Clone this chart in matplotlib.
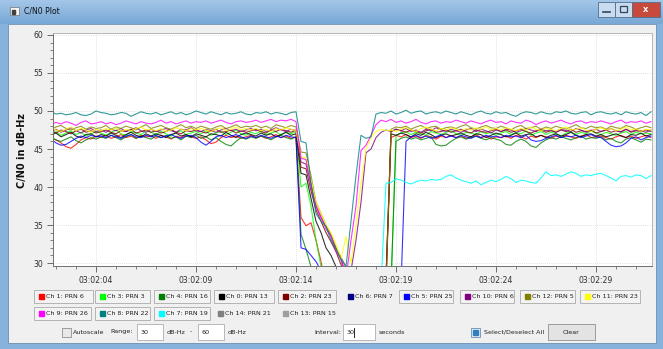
"""C/N0 plot window: per-channel carrier-to-noise over a 30 s interval."""
import numpy as np
import matplotlib

matplotlib.use("Agg")
import matplotlib.pyplot as plt
from matplotlib.colors import LinearSegmentedColormap
from matplotlib.patches import Rectangle
from matplotlib.ticker import FuncFormatter, MultipleLocator

W, H, DPI = 663, 349, 100

# samples every 0.25 s, time in seconds after 03:02:00
T0, STEP = 1.75, 0.25

ch1_prn6 = [
    46.5, 46.2, 45.8, 45.3, 45.1, 45.6, 46.2, 46.5, 46.3, 46.7,
    46.5, 46.8, 46.4, 46.6, 46.9, 46.5, 46.7, 46.4, 46.8, 46.6,
    46.7, 46.4, 46.8, 46.6, 46.3, 46.7, 46.5, 46.9, 46.6, 46.4,
    46.6, 46.2, 45.7, 45.9, 46.5, 46.8, 46.5, 46.7, 46.4, 46.6,
    46.8, 46.5, 46.7, 46.4, 46.6, 46.9, 46.5, 46.7, 46.4, 46.6,
    36.0, 34.9, 35.3, 33.0, 30.2, 27.0, 27.0, 27.0, 27.0, 27.0,
    27.0, 27.0, 27.0, 27.0, 27.0, 27.0, 27.0, 27.0, 46.5, 46.8,
    46.6, 46.9, 46.5, 46.7, 46.4, 46.8, 46.6, 46.3, 46.7, 46.5,
    46.8, 46.5, 46.7, 46.4, 46.6, 46.9, 46.5, 46.7, 46.3, 46.6,
    46.5, 46.7, 46.4, 46.8, 46.6, 46.3, 46.7, 46.5, 46.8, 46.6,
    46.4, 46.7, 46.5, 46.8, 46.6, 46.4, 46.7, 46.9, 46.5, 46.6,
    46.7, 46.5, 46.3, 46.6, 46.8, 46.5, 46.7, 46.4, 46.6, 46.8,
    46.5,
]
ch3_prn3 = [
    47.0, 47.3, 46.8, 47.1, 47.4, 46.9, 47.2, 46.7, 47.0, 47.3,
    47.1, 46.8, 47.2, 47.5, 47.0, 46.8, 47.3, 47.1, 46.9, 47.4,
    47.2, 46.9, 47.3, 47.0, 46.7, 47.2, 47.4, 46.9, 47.1, 47.3,
    47.0, 47.4, 46.8, 47.1, 47.3, 46.9, 47.2, 47.5, 47.0, 46.8,
    47.2, 47.0, 47.4, 46.9, 47.1, 47.3, 46.8, 47.2, 47.0, 47.3,
    40.0, 40.5, 37.5, 33.0, 29.5, 27.0, 27.0, 27.0, 27.0, 27.0,
    27.0, 27.0, 27.0, 27.0, 27.0, 27.0, 27.0, 27.0, 27.0, 46.8,
    47.1, 47.3, 46.9, 47.2, 47.0, 46.8, 47.3, 47.1, 46.9, 47.2,
    47.4, 47.0, 46.8, 47.2, 47.1, 46.9, 47.3, 47.0, 47.2, 46.8,
    47.1, 47.3, 46.9, 47.2, 47.0, 47.4, 46.8, 47.1, 47.3, 46.9,
    47.2, 47.0, 46.7, 47.1, 47.3, 46.9, 47.2, 47.0, 47.4, 47.1,
    46.9, 47.2, 47.0, 46.8, 47.1, 47.3, 46.9, 47.2, 47.0, 47.1,
    47.0,
]
ch4_prn16 = [
    46.5, 46.2, 46.0, 46.3, 46.6, 46.1, 45.8, 46.2, 46.5, 46.3,
    46.6, 46.4, 46.8, 46.5, 46.2, 46.6, 46.9, 46.4, 46.7, 46.5,
    46.3, 46.7, 46.5, 46.8, 46.4, 46.6, 46.2, 46.7, 46.5, 46.8,
    46.4, 46.6, 46.2, 46.5, 46.0, 45.6, 45.4, 46.0, 46.5, 46.3,
    46.6, 46.4, 46.7, 46.5, 46.2, 46.6, 46.8, 46.5, 46.3, 46.6,
    33.8, 31.8, 29.5, 27.0, 27.0, 27.0, 27.0, 27.0, 27.0, 27.0,
    27.0, 27.0, 27.0, 27.0, 27.0, 27.0, 27.0, 27.0, 27.0, 46.0,
    46.4, 46.6, 46.3, 46.5, 46.2, 46.4, 46.6, 45.6, 45.4, 45.5,
    46.0, 46.4, 46.6, 46.3, 46.5, 46.7, 46.4, 46.2, 46.5, 46.3,
    46.1, 45.6, 45.5, 46.0, 46.3, 46.0, 45.4, 45.2, 45.8, 46.2,
    46.5, 46.3, 46.6, 46.4, 46.2, 46.5, 46.7, 46.3, 46.5, 46.4,
    46.6, 46.2, 46.4, 46.0, 45.8, 46.3, 46.5, 46.2, 45.9, 46.3,
    46.2,
]
ch0_prn13 = [
    46.8, 47.1, 46.6, 46.9, 47.2, 46.7, 46.5, 46.9, 47.0, 46.6,
    46.9, 46.7, 47.1, 46.8, 46.5, 46.9, 47.2, 46.8, 46.6, 47.0,
    46.7, 47.0, 46.8, 46.5, 46.9, 47.1, 46.7, 46.9, 46.6, 47.0,
    46.8, 46.6, 47.0, 46.9, 46.7, 47.2, 46.8, 46.5, 46.9, 47.1,
    46.9, 46.7, 47.1, 46.8, 47.0, 46.6, 46.9, 47.2, 46.8, 47.0,
    41.8, 41.6, 38.5, 35.5, 34.0, 32.0, 31.0, 29.5, 28.0, 28.0,
    28.0, 28.0, 28.0, 28.0, 28.0, 28.0, 28.0, 28.0, 47.0, 46.8,
    47.1, 46.9, 46.6, 47.0, 46.8, 47.2, 46.9, 46.5, 46.8, 47.0,
    46.7, 46.9, 47.1, 46.8, 46.6, 47.0, 46.9, 46.5, 46.8, 47.1,
    46.9, 46.6, 46.8, 47.1, 46.7, 46.9, 47.0, 46.6, 46.8, 46.5,
    46.8, 47.0, 46.7, 46.9, 47.2, 46.8, 46.6, 46.9, 47.0, 46.7,
    46.9, 46.6, 46.8, 47.0, 46.7, 46.5, 46.9, 46.8, 47.1, 46.7,
    46.9,
]
ch2_prn23 = [
    47.4, 47.1, 47.5, 47.3, 47.0, 47.4, 47.6, 47.2, 47.4, 47.1,
    47.3, 47.5, 47.2, 47.0, 47.4, 47.3, 47.6, 47.1, 47.3, 47.5,
    47.2, 47.4, 47.1, 47.3, 47.6, 47.2, 47.0, 47.4, 47.3, 47.5,
    47.3, 47.1, 47.4, 47.6, 47.2, 47.3, 47.5, 47.1, 47.4, 47.2,
    47.4, 47.6, 47.3, 47.1, 47.5, 47.3, 47.6, 47.4, 47.2, 47.5,
    42.6, 42.4, 39.5, 37.0, 35.5, 34.0, 32.8, 31.5, 29.8, 28.0,
    28.0, 28.0, 28.0, 28.0, 28.0, 28.0, 28.0, 28.0, 47.3, 47.6,
    47.4, 47.2, 47.5, 47.3, 47.1, 47.4, 47.6, 47.2, 47.3, 47.5,
    47.2, 47.4, 47.6, 47.3, 47.1, 47.5, 47.3, 47.2, 47.4, 47.6,
    47.3, 47.5, 47.2, 47.4, 47.6, 47.3, 47.1, 47.4, 47.5, 47.2,
    47.4, 47.2, 47.5, 47.3, 47.6, 47.2, 47.4, 47.3, 47.5, 47.1,
    47.3, 47.5, 47.2, 47.4, 47.3, 47.6, 47.2, 47.4, 47.3, 47.5,
    47.3,
]
ch5_prn25 = [
    46.3, 45.8, 45.5, 45.6, 46.0, 46.4, 46.7, 46.5, 46.8, 46.6,
    46.7, 46.5, 46.8, 46.6, 46.4, 46.7, 46.9, 46.6, 46.5, 46.8,
    46.6, 46.8, 46.5, 46.7, 46.9, 46.6, 46.4, 46.7, 46.8, 46.5,
    45.9, 45.5, 46.0, 46.6, 46.8, 46.5, 46.7, 46.9, 46.6, 46.4,
    46.7, 46.5, 46.8, 46.6, 46.4, 46.7, 46.5, 46.8, 46.6, 46.5,
    32.0, 31.8, 31.0, 30.2, 29.0, 27.0, 27.0, 27.0, 27.0, 27.0,
    27.0, 27.0, 27.0, 27.0, 27.0, 27.0, 27.0, 27.0, 27.0, 27.0,
    27.0, 46.0, 46.6, 46.8, 46.5, 46.7, 46.4, 46.6, 46.9, 46.5,
    46.7, 46.5, 46.8, 46.6, 46.4, 46.7, 46.5, 46.8, 46.6, 46.7,
    46.5, 46.8, 46.6, 46.7, 46.5, 46.8, 46.2, 46.0, 46.1, 46.4,
    46.6, 46.8, 46.5, 46.7, 46.6, 46.8, 46.5, 46.7, 46.9, 46.6,
    46.5, 46.0, 45.5, 45.3, 45.4, 45.8, 46.4, 46.6, 46.2, 46.5,
    46.7,
]
ch10_prn6 = [
    47.3, 47.6, 47.2, 47.5, 47.8, 47.4, 47.1, 47.5, 47.7, 47.3,
    47.5, 47.2, 47.6, 47.4, 47.7, 47.3, 47.5, 47.8, 47.4, 47.2,
    47.6, 47.3, 47.5, 47.7, 47.4, 47.2, 47.6, 47.5, 47.8, 47.4,
    47.3, 47.6, 47.4, 47.2, 47.5, 47.7, 47.4, 47.6, 47.3, 47.5,
    47.7, 47.4, 47.6, 47.3, 47.5, 47.8, 47.5, 47.3, 47.6, 47.4,
    43.3, 43.0, 40.5, 37.5, 36.0, 34.8, 33.5, 32.0, 30.5, 28.5,
    29.0, 33.0, 38.0, 44.5, 45.0, 46.5, 47.2, 47.5, 47.3, 47.6,
    47.4, 47.7, 47.3, 47.5, 47.2, 47.6, 47.4, 47.8, 47.5, 47.3,
    47.6, 47.4, 47.2, 47.5, 47.7, 47.3, 47.6, 47.4, 47.1, 47.5,
    47.3, 47.6, 47.5, 47.2, 47.4, 47.7, 47.5, 47.3, 47.6, 47.4,
    47.5, 47.2, 47.6, 47.4, 47.3, 47.7, 47.5, 47.2, 47.4, 47.6,
    47.3, 47.5, 47.7, 47.4, 47.2, 47.6, 47.3, 47.5, 47.4, 47.2,
    47.5,
]
ch12_prn5 = [
    47.6, 47.9, 48.1, 47.7, 47.5, 47.8, 48.0, 47.6, 47.9, 47.7,
    47.8, 48.1, 47.6, 47.9, 47.7, 48.0, 47.8, 47.5, 47.9, 48.2,
    47.7, 47.9, 48.1, 47.8, 47.6, 47.9, 48.2, 47.8, 48.0, 47.7,
    48.0, 47.8, 47.6, 47.9, 48.1, 47.7, 47.9, 48.2, 47.8, 48.0,
    47.9, 48.1, 47.8, 48.0, 47.7, 48.2, 48.0, 47.8, 48.1, 47.9,
    44.6, 44.5, 41.5, 38.0, 36.5, 35.0, 33.8, 32.0, 30.8, 29.5,
    28.0, 27.0, 27.0, 27.0, 27.0, 27.0, 27.0, 27.0, 47.6, 47.9,
    47.8, 48.0, 47.6, 47.9, 48.1, 47.7, 47.9, 48.0, 47.6, 47.8,
    47.9, 47.7, 48.0, 48.2, 47.8, 47.6, 47.9, 48.1, 47.8, 47.7,
    48.0, 47.8, 47.5, 47.9, 48.1, 47.7, 47.8, 48.0, 47.6, 47.9,
    47.7, 48.0, 47.8, 47.6, 47.9, 48.2, 47.8, 47.7, 48.0, 47.8,
    47.9, 47.6, 48.0, 47.8, 47.7, 48.1, 47.9, 47.6, 47.8, 48.0,
    47.8,
]
ch11_prn23 = [
    47.8, 47.5, 47.3, 47.6, 47.9, 47.4, 47.7, 47.5, 47.2, 47.6,
    47.4, 47.7, 47.5, 47.8, 47.3, 47.6, 47.4, 47.7, 47.9, 47.5,
    47.6, 47.4, 47.7, 47.3, 47.5, 47.8, 47.6, 47.4, 47.7, 47.5,
    47.7, 47.5, 47.3, 47.6, 47.8, 47.4, 47.6, 47.9, 47.5, 47.7,
    47.5, 47.7, 47.4, 47.6, 47.3, 47.7, 47.5, 47.8, 47.6, 47.4,
    44.0, 43.8, 41.0, 38.0, 36.5, 35.0, 34.0, 32.5, 30.5, 33.5,
    30.0, 35.0, 40.5, 45.0, 46.5, 47.3, 47.6, 47.4, 47.5, 47.3,
    47.6, 47.8, 47.5, 47.3, 47.7, 47.9, 47.6, 47.4, 47.7, 47.5,
    47.8, 47.6, 47.4, 47.7, 47.5, 47.8, 47.6, 47.9, 47.5, 47.7,
    47.5, 47.8, 47.6, 47.4, 47.7, 47.5, 47.9, 47.6, 47.4, 47.7,
    47.6, 47.4, 47.7, 47.9, 47.5, 47.6, 47.8, 47.5, 47.3, 47.6,
    47.8, 47.5, 47.7, 47.4, 47.6, 47.9, 47.5, 47.7, 47.3, 47.6,
    47.5,
]
ch9_prn26 = [
    48.2, 48.5, 48.3, 48.6, 48.4, 48.1, 48.5, 48.7, 48.3, 48.4,
    48.6, 48.3, 48.5, 48.2, 48.4, 48.7, 48.5, 48.3, 48.6, 48.4,
    48.3, 48.5, 48.8, 48.4, 48.6, 48.3, 48.5, 48.7, 48.4, 48.6,
    48.5, 48.7, 48.4, 48.6, 48.8, 48.5, 48.3, 48.6, 48.7, 48.5,
    48.6, 48.8, 48.5, 48.7, 48.9, 48.6, 48.8, 48.7, 48.9, 48.6,
    43.8, 43.6, 40.0, 37.5, 36.0, 34.5, 33.5, 31.5, 30.5, 28.0,
    33.0, 37.5, 44.8, 45.5, 46.8, 48.2, 48.8, 48.6, 48.9, 48.5,
    48.7, 48.4, 48.6, 48.9, 48.5, 48.3, 48.6, 48.7, 48.4, 48.6,
    48.5, 48.8, 48.6, 48.4, 48.7, 48.5, 48.3, 48.6, 48.8, 48.5,
    48.6, 48.3, 48.7, 48.5, 48.4, 48.8, 48.6, 48.2, 48.5, 48.7,
    48.4, 48.6, 48.8, 48.5, 48.3, 48.6, 48.7, 48.4, 48.6, 48.5,
    48.7, 48.5, 48.3, 48.6, 48.8, 48.4, 48.6, 48.5, 48.7, 48.4,
    48.6,
]
ch8_prn22 = [
    49.9, 49.6, 49.7, 49.5, 49.6, 49.8, 49.5, 49.4, 49.6, 50.0,
    49.8, 49.7, 49.5, 49.6, 49.8, 49.7, 49.3, 49.6, 49.9, 49.7,
    49.6, 49.8, 49.5, 49.7, 49.9, 49.6, 49.8, 49.5, 49.7, 50.0,
    49.8, 49.6, 49.9, 49.7, 49.5, 49.8, 49.6, 49.7, 49.9, 49.6,
    49.5, 49.8, 49.7, 49.9, 49.6, 49.8, 49.7, 49.5, 49.8, 49.9,
    46.0, 45.8, 40.5, 36.5, 35.5, 34.8, 33.0, 31.8, 30.5, 29.5,
    35.5, 41.5, 46.8, 46.4, 46.6, 49.6, 49.8, 49.7, 50.0, 49.6,
    49.8, 50.1, 49.7, 49.9, 50.0, 49.6, 49.8, 49.9, 49.7, 50.0,
    49.8, 49.6, 49.9, 49.7, 49.5, 49.8, 50.0, 49.7, 49.6, 49.9,
    49.7, 49.8, 49.5, 49.3, 49.7, 49.9, 49.8, 49.6, 49.9, 49.7,
    49.6, 49.9, 49.8, 50.0, 49.7, 49.6, 49.8, 49.9, 49.5, 49.8,
    49.9, 49.7, 49.6, 49.8, 49.5, 49.9, 49.7, 49.6, 49.8, 49.4,
    49.9,
]
# PRN 19 is only tracked from sample 66 on
ch7_start = 66
ch7_prn19 = [
    27.0, 40.5, 40.6, 41.1,
    40.9, 40.6, 40.4, 40.7, 40.9, 40.8, 41.0, 40.9, 41.0, 41.4,
    41.6, 41.2, 40.9, 40.7, 40.5, 40.8, 40.3, 40.6, 40.9, 40.7,
    41.0, 41.4, 41.1, 40.6, 40.9, 40.8, 40.6, 40.5, 41.2, 42.0,
    41.5, 41.6, 41.4, 41.7, 42.0, 41.8, 41.4, 41.6, 41.5, 41.7,
    41.8, 41.5, 41.2, 40.8, 41.4, 41.5, 41.3, 41.6, 41.5, 41.1,
    41.5,
]

# legend entries, in the order the window lists them
legend_labels = ["Ch 1: PRN 6", "Ch 3: PRN 3", "Ch 4: PRN 16", "Ch 0: PRN 13",
                 "Ch 2: PRN 23", "Ch 6: PRN 7", "Ch 5: PRN 25", "Ch 10: PRN 6",
                 "Ch 12: PRN 5", "Ch 11: PRN 23", "Ch 9: PRN 26", "Ch 8: PRN 22",
                 "Ch 7: PRN 19", "Ch 14: PRN 21", "Ch 13: PRN 15"]
legend_colors = ["#ff0000", "#00ff00", "#008000", "#000000", "#800000",
                 "#000080", "#0000ff", "#800080", "#808000", "#ffff00",
                 "#ff00ff", "#008080", "#00ffff", "#808080", "#a0a0a4"]
legend_checked = [True, True, True, True, True, False, True, True, True, True,
                  True, True, True, False, False]

# layout of the legend buttons (pixels: left, right, row)
legend_boxes = [(34, 93, 0), (95, 150, 0), (154, 210, 0), (214, 274, 0),
                (278, 336, 0), (343, 395, 0), (399, 453, 0), (460, 514, 0),
                (520, 575, 0), (580, 640, 0), (34, 91, 1), (95, 150, 1),
                (154, 210, 1), (213, 274, 1), (278, 340, 1)]

curves = [
    (ch1_prn6, "#ff0000"), (ch3_prn3, "#00ff00"), (ch4_prn16, "#008000"),
    (ch0_prn13, "#000000"), (ch2_prn23, "#800000"), (ch5_prn25, "#0000ff"),
    (ch10_prn6, "#800080"), (ch12_prn5, "#808000"), (ch11_prn23, "#ffff00"),
    (ch9_prn26, "#ff00ff"), (ch8_prn22, "#008080"),
]

FONT = "DejaVu Sans"
TXT = "#202020"


def frac(x0, y0, x1, y1):
    return [x0 / W, 1 - y1 / H, (x1 - x0) / W, (y1 - y0) / H]


fig = plt.figure(figsize=(W / DPI, H / DPI), dpi=DPI, facecolor="#f0f0f0")

# ---- window chrome -------------------------------------------------------
bg = fig.add_axes([0, 0, 1, 1])
bg.axis("off")
title_cmap = LinearSegmentedColormap.from_list("tb", ["#a3c6e8", "#78a8d6"])
bg.imshow(np.linspace(0, 1, 24)[:, None], extent=(0, W, 24, 0),
          cmap=title_cmap, aspect="auto", zorder=0)
bg.add_patch(Rectangle((0, 24), 8, H - 24, color="#86b2db", zorder=0))
bg.add_patch(Rectangle((656, 24), 7, H - 24, color="#86b2db", zorder=0))
bg.add_patch(Rectangle((0, 343), W, 6, color="#86b2db", zorder=0))
bg.add_patch(Rectangle((8, 24), 648, 319, facecolor="#f0f0f0",
                       edgecolor="#6d8fb3", lw=0.6, zorder=1))

# title bar icon, caption and buttons
bg.add_patch(Rectangle((10, 7), 9, 8, facecolor="#f4f4f4", edgecolor="#707070",
                       lw=0.5, zorder=2))
bg.add_patch(Rectangle((11.5, 9.5), 3, 4, color="#404040", zorder=3))
bg.text(24, 11.5, "C/N0 Plot", fontsize=5.6, family=FONT, color="#101010",
        va="center", ha="left", zorder=3)
for x0, x1, fc in [(598, 615, "#c9dcef"), (615, 632, "#c9dcef"),
                   (632, 660, "#c74a3c")]:
    bg.add_patch(Rectangle((x0, 2), x1 - x0, 15, facecolor=fc,
                           edgecolor="#4f6f90", lw=0.6, zorder=2))
bg.plot([603, 610], [12, 12], color="#30455a", lw=1.2, zorder=3)
bg.add_patch(Rectangle((620, 6), 7, 6, fill=False, edgecolor="#30455a",
                       lw=0.9, zorder=3))
bg.text(646, 9.5, "x", fontsize=6, family=FONT, weight="bold", color="white",
        ha="center", va="center", zorder=3)

# legend buttons
for (x0, x1, row), label, color, checked in zip(legend_boxes, legend_labels,
                                                 legend_colors, legend_checked):
    yc = 296 if row == 0 else 313.5
    if checked:
        bg.add_patch(Rectangle((x0, yc - 6.5), x1 - x0, 13, facecolor="#f3f3f3",
                               edgecolor="#b4b4b4", lw=0.7, zorder=2))
    bg.add_patch(Rectangle((x0 + 4.5, yc - 2.5), 5, 5, color=color, zorder=3))
    bg.text(x0 + 12, yc, label, fontsize=4.6, family=FONT, color=TXT,
            ha="left", va="center", zorder=3)

# control row
yc = 332
bg.add_patch(Rectangle((62, yc - 4.5), 9, 9, facecolor="#e8e8e8",
                       edgecolor="#8e8f8f", lw=0.6, zorder=2))
bg.text(73, yc, "Autoscale", fontsize=4.6, family=FONT, color=TXT,
        va="center", zorder=3)
bg.text(110, yc, "Range:", fontsize=4.6, family=FONT, color=TXT,
        va="center", zorder=3)
for x0, x1, val in [(137, 163, "30"), (198, 224, "60"), (343, 375, "30")]:
    bg.add_patch(Rectangle((x0, yc - 8), x1 - x0, 16, facecolor="white",
                           edgecolor="#abadb3", lw=0.6, zorder=2))
    bg.text(x0 + 3.5, yc, val, fontsize=4.6, family=FONT, color=TXT,
            va="center", zorder=3)
bg.plot([353.5, 353.5], [yc - 4.5, yc + 4.5], color="black", lw=0.6, zorder=3)
bg.text(167, yc, "dB-Hz", fontsize=4.6, family=FONT, color=TXT,
        va="center", zorder=3)
bg.text(190, yc, "-", fontsize=4.6, family=FONT, color=TXT,
        va="center", zorder=3)
bg.text(228, yc, "dB-Hz", fontsize=4.6, family=FONT, color=TXT,
        va="center", zorder=3)
bg.text(341, yc, "Interval:", fontsize=4.6, family=FONT, color=TXT,
        va="center", ha="right", zorder=3)
bg.text(379, yc, "seconds", fontsize=4.6, family=FONT, color=TXT,
        va="center", zorder=3)
bg.add_patch(Rectangle((471, yc - 4.5), 9, 9, facecolor="#e6eef6",
                       edgecolor="#6d8fb3", lw=0.6, zorder=2))
bg.add_patch(Rectangle((473, yc - 2.5), 5, 5, color="#2f7fbf", zorder=3))
bg.text(484, yc, "Select/Deselect All", fontsize=4.6, family=FONT, color=TXT,
        va="center", zorder=3)
bg.add_patch(Rectangle((548, yc - 8), 47, 16, facecolor="#e3e3e3",
                       edgecolor="#8f8f8f", lw=0.6, zorder=2))
bg.text(571.5, yc, "Clear", fontsize=4.6, family=FONT, color=TXT,
        va="center", ha="center", zorder=3)

bg.set_xlim(0, W)
bg.set_ylim(H, 0)

# ---- C/N0 plot canvas ---------------------------------------------------
ax = fig.add_axes(frac(53, 33, 652, 266))
ax.set_facecolor("white")

time_s = T0 + STEP * np.arange(len(ch8_prn22))
for values, color in curves:
    ax.plot(time_s, values, color=color, lw=0.8, alpha=0.8)
ax.plot(time_s[ch7_start:], ch7_prn19, color="#00ffff", lw=0.8, alpha=0.85)

ax.set_xlim(1.85, 31.8)
ax.set_ylim(29.61, 60.26)
ax.xaxis.set_major_locator(MultipleLocator(5, offset=4))
ax.xaxis.set_minor_locator(MultipleLocator(1))
ax.xaxis.set_major_formatter(FuncFormatter(lambda v, p: f"03:02:{int(round(v)):02d}"))
ax.yaxis.set_major_locator(MultipleLocator(5))
ax.yaxis.set_minor_locator(MultipleLocator(1))
ax.grid(which="major", color="#c8c8c8", lw=0.5, linestyle=(0, (1, 2)))
ax.tick_params(which="major", direction="out", length=4.5, width=0.6,
               colors="#555555", labelcolor="#303030", labelsize=5.6, pad=2.5)
ax.tick_params(which="minor", direction="out", length=2.2, width=0.5,
               colors="#555555")
for lab in ax.get_xticklabels() + ax.get_yticklabels():
    lab.set_family(FONT)
for side in ("top", "right"):
    ax.spines[side].set_color("#b8b8b8")
for side in ("left", "bottom"):
    ax.spines[side].set_color("#707070")
for sp in ax.spines.values():
    sp.set_linewidth(0.7)

fig.text(22 / W, 1 - 150 / H, "C/N0 in dB-Hz", rotation=90, fontsize=7,
         weight="bold", family=FONT, color="#101010", ha="center", va="center")

fig.savefig("out.png", dpi=DPI, facecolor=fig.get_facecolor())
